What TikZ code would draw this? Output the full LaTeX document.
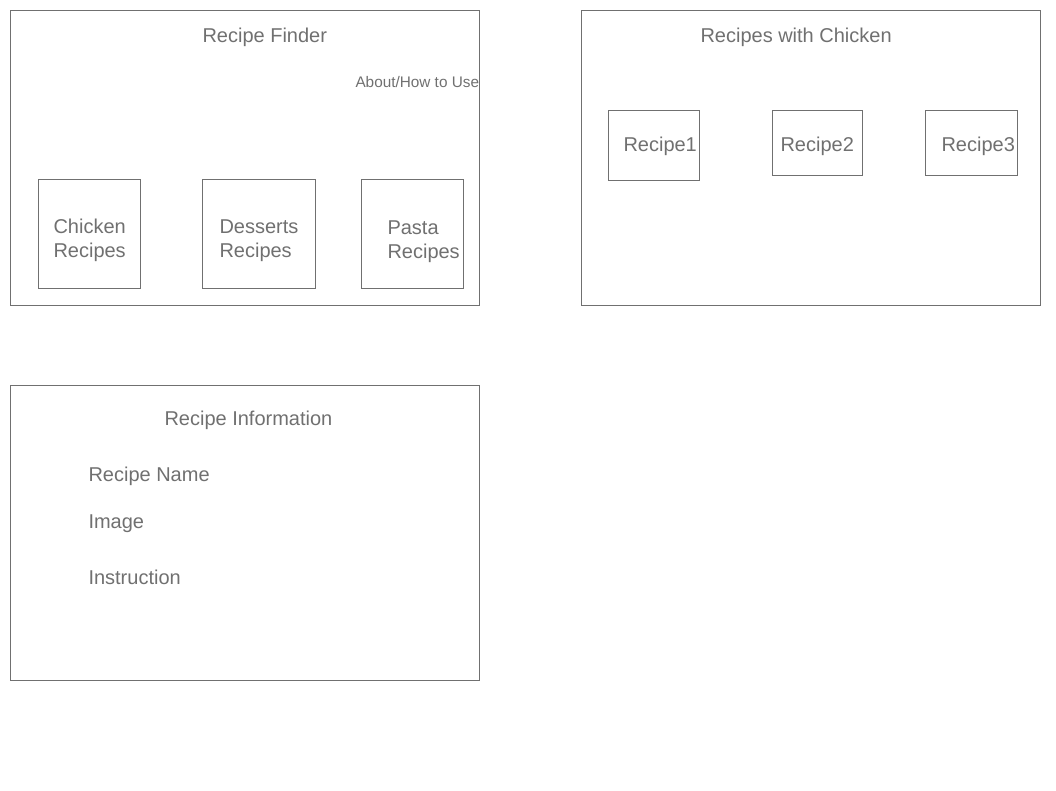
\documentclass[tikz,border=0pt]{standalone}
\usepackage{fontspec}
\setmainfont{Liberation Sans}
\definecolor{wiregray}{RGB}{112,112,112}
\tikzset{every picture/.style={line width=0.75pt}}
\tikzset{
  frame/.style={draw=wiregray},
  label/.style={anchor=base west,inner sep=0pt,text=wiregray,font=\fontsize{15pt}{18pt}\selectfont,align=left},
  smalllabel/.style={label,font=\fontsize{11.5pt}{14pt}\selectfont}
}
\begin{document}
\begin{tikzpicture}[x=0.75pt,y=0.75pt,yscale=-1,xscale=1]
\useasboundingbox (0,0) rectangle (1056,791);

%Shape: Rectangle [id:home]
\draw [frame] (10.5,10.5) rectangle (479.5,305.5) ;
%Shape: Rectangle [id:chicken]
\draw [frame] (38.5,179.5) rectangle (140.5,288.5) ;
%Shape: Rectangle [id:desserts]
\draw [frame] (202.5,179.5) rectangle (315.5,288.5) ;
%Shape: Rectangle [id:pasta]
\draw [frame] (361.5,179.5) rectangle (463.5,288.5) ;

%Shape: Rectangle [id:list]
\draw [frame] (581.5,10.5) rectangle (1040.5,305.5) ;
%Shape: Rectangle [id:recipe1]
\draw [frame] (608.5,110.5) rectangle (699.5,180.5) ;
%Shape: Rectangle [id:recipe2]
\draw [frame] (772.5,110.5) rectangle (862.5,175.5) ;
%Shape: Rectangle [id:recipe3]
\draw [frame] (925.5,110.5) rectangle (1017.5,175.5) ;

%Shape: Rectangle [id:info]
\draw [frame] (10.5,385.5) rectangle (479.5,680.5) ;

% Text Node
\node [label] (finder) at (202,43) {Recipe Finder};
% Text Node
\node [smalllabel] (about) at (355,88) {About/How to Use};
% Text Node
\node [label] (chickenlbl) at (53,258) {Chicken\\Recipes};
% Text Node
\node [label] (dessertslbl) at (219,258) {Desserts\\Recipes};
% Text Node
\node [label] (pastalbl) at (387,259) {Pasta\\Recipes};

% Text Node
\node [label] (withchicken) at (700,43) {Recipes with Chicken};
% Text Node
\node [label] (recipeonelbl) at (623,152) {Recipe1};
% Text Node
\node [label] (recipetwolbl) at (780,152) {Recipe2};
% Text Node
\node [label] (recipethreelbl) at (941,152) {Recipe3};

% Text Node
\node [label] (infotitle) at (164,425) {Recipe Information};
% Text Node
\node [label] (namelbl) at (88,481) {Recipe Name};
% Text Node
\node [label] (imagelbl) at (88,528) {Image};
% Text Node
\node [label] (instrlbl) at (88,584) {Instruction};

\end{tikzpicture}
\end{document}
